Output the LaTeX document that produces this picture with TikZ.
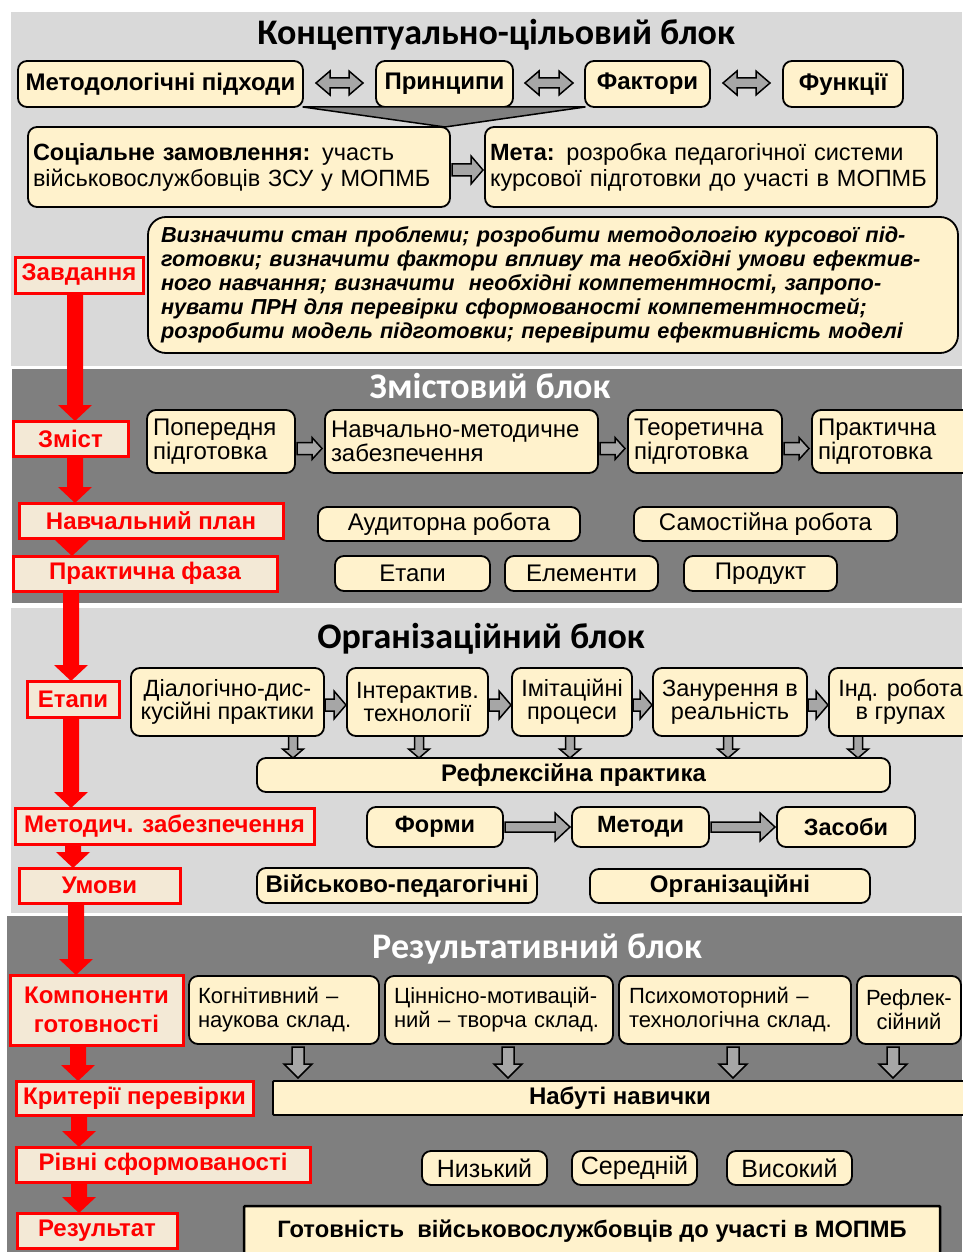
\documentclass[tikz,border=0pt]{standalone}
\usepackage{fontspec}
\setmainfont{Liberation Sans}
\newfontfamily\titlefont{Carlito}
\usetikzlibrary{calc}
\definecolor{beige}{HTML}{FFF2CC}
\definecolor{lgray}{HTML}{D9D9D9}
\definecolor{dgray}{HTML}{7F7F7F}
\definecolor{redbg}{HTML}{F3E9D6}
\definecolor{arrgray}{HTML}{A6A6A6}

% box from corner (x1,y1) to (x2,y2), centred text
\newcommand\Bx[7][]{%
 \pgfmathsetmacro\bw{#5-#3}\pgfmathsetmacro\bh{#6-#4}%
 \node[#1, anchor=north west, minimum width=\bw pt, minimum height=\bh pt] (#2) at (#3,#4) {#7};}
% box with left aligned text, pad = inner x sep
\newcommand\BxL[8][]{%
 \pgfmathsetmacro\bw{#5-#3}\pgfmathsetmacro\bh{#6-#4}\pgfmathsetmacro\tw{#5-#3-2*#7}%
 \node[#1, anchor=north west, minimum width=\bw pt, minimum height=\bh pt, text width=\tw pt, align=left, inner xsep=#7pt] (#2) at (#3,#4) {#8};}
% red vertical arrow
\newcommand\RArrowV[2]{%
 \fill[red] let \p1=(#1), \p2=(#2) in (\x1-8,\y1) -- (\x1-8,\y2+16) -- (\x1-17,\y2+16) -- (\x1,\y2) -- (\x1+17,\y2+16) -- (\x1+8,\y2+16) -- (\x1+8,\y1) -- cycle;}
% gray block arrows: from, to, shaft half, head half, head length
\newcommand\GArrowH[5]{%
 \filldraw[garrow] let \p1=(#1), \p2=(#2) in (\x1,\y1+#3) -- (\x2-#5,\y1+#3) -- (\x2-#5,\y1+#4) -- (\x2,\y1) -- (\x2-#5,\y1-#4) -- (\x2-#5,\y1-#3) -- (\x1,\y1-#3) -- cycle;}
\newcommand\GArrowV[5]{%
 \filldraw[garrow] let \p1=(#1), \p2=(#2) in (\x1-#3,\y1) -- (\x1-#3,\y2+#5) -- (\x1-#4,\y2+#5) -- (\x1,\y2) -- (\x1+#4,\y2+#5) -- (\x1+#3,\y2+#5) -- (\x1+#3,\y1) -- cycle;}
\newcommand\GArrowD[5]{%
 \filldraw[garrow] let \p1=(#1), \p2=(#2) in (\x1,\y1) -- (\x1+#5,\y1+#4) -- (\x1+#5,\y1+#3) -- (\x2-#5,\y1+#3) -- (\x2-#5,\y1+#4) -- (\x2,\y1) -- (\x2-#5,\y1-#4) -- (\x2-#5,\y1-#3) -- (\x1+#5,\y1-#3) -- (\x1+#5,\y1-#4) -- cycle;}

\begin{document}
\begin{tikzpicture}[x=1pt,y=-1pt,
  bx/.style={draw=black, line width=1.8pt, fill=beige, rounded corners=9pt, inner sep=0pt, outer sep=0pt, align=center, font=\fontsize{24}{20}\selectfont},
  bxb/.style={bx, font=\bfseries\fontsize{24}{22}\selectfont},
  sq/.style={bx, rounded corners=1pt},
  rbox/.style={draw=red, line width=3pt, fill=redbg, inner sep=0pt, outer sep=0pt, align=center, text=red, font=\bfseries\fontsize{24}{29}\selectfont},
  ttl/.style={font=\titlefont\bfseries\fontsize{36}{38}\selectfont, inner sep=0pt, anchor=base},
  garrow/.style={fill=arrgray, draw=black, line width=1.5pt, line join=miter}]
\useasboundingbox[fill=white] (0,0) rectangle (962,1252);

% block backgrounds
\fill[lgray] (11,12) rectangle (962,366);
\fill[dgray] (12,369) rectangle (962,603);
\fill[lgray] (11,608) rectangle (962,913);
\fill[dgray] (7,916) rectangle (962,1252);

% titles
\node[ttl] (t1) at (496,45) {Концептуально-цільовий блок};
\node[ttl, text=white] (t2) at (490,398) {Змістовий блок};
\node[ttl] (t3) at (481,648) {Організаційний блок};
\node[ttl, text=white] (t4) at (537,958) {Результативний блок};

% ---------- block 1
\Bx[bxb]{m1}{18}{61}{303}{107}{Методологічні підходи}
\Bx[bxb]{m2}{376}{61}{513}{107}{Принципи}
\Bx[bxb]{m3}{585}{61}{710}{107}{Фактори}
\Bx[bxb]{m4}{783}{61}{903}{107}{Функції}
\GArrowD{$(m1.east)+(13,-1)$}{$(m2.west)+(-13,-1)$}{5}{12}{14}
\GArrowD{$(m2.east)+(12,-1)$}{$(m3.west)+(-12,-1)$}{5}{12}{14}
\GArrowD{$(m3.east)+(13,-1)$}{$(m4.west)+(-13,-1)$}{5}{12}{14}

\filldraw[fill=dgray, draw=black, line width=1.5pt, line join=round] (m1.south east) -- (m3.south west) -- (445,127) -- cycle;

\BxL[bx, font=\fontsize{23.5}{26}\selectfont]{s1}{28}{127}{450}{207}{5}{\textbf{Соціальне замовлення:} участь\\військовослужбовців ЗСУ у МОПМБ}
\BxL[bx, font=\fontsize{23.5}{26}\selectfont]{s2}{485}{127}{937}{207}{5}{\textbf{Мета:} розробка педагогічної системи\\курсової підготовки до участі в МОПМБ}
\GArrowH{$(s1.east)+(2,3)$}{$(s2.west)+(-2,3)$}{6}{14}{12}

\BxL[bx, rounded corners=18pt, font=\bfseries\itshape\fontsize{21.7}{24}\selectfont]{tk}{148}{217}{958}{353}{13}{Визначити стан проблеми; розробити методологію курсової під-\\готовки; визначити фактори впливу та необхідні умови ефектив-\\ного навчання; визначити\ \ необхідні компетентності, запропо-\\нувати ПРН для перевірки сформованості компетентностей;\\розробити модель підготовки; перевірити ефективність моделі}

% ---------- block 2
\BxL[bx]{b1}{147}{410}{295}{473}{6}{Попередня\\підготовка}
\BxL[bx]{b2}{325}{410}{598}{473}{6}{Навчально-методичне\\забезпечення}
\BxL[bx]{b3}{628}{410}{782}{473}{6}{Теоретична\\підготовка}
\BxL[bx]{b4}{812}{410}{975}{473}{6}{Практична\\підготовка}
\GArrowH{$(b1.east)+(2,7)$}{$(b2.west)+(-3,7)$}{6}{11}{10}
\GArrowH{$(b2.east)+(2,7)$}{$(b3.west)+(-3,7)$}{6}{11}{10}
\GArrowH{$(b3.east)+(2,7)$}{$(b4.west)+(-3,7)$}{6}{11}{10}

\Bx[bx]{au}{318}{507}{580}{541}{Аудиторна робота}
\Bx[bx]{sr}{634}{507}{897}{541}{Самостійна робота}
\Bx[bx]{et}{335}{556}{490}{591}{Етапи}
\Bx[bx]{el}{505}{556}{658}{591}{Елементи}
\Bx[bx]{pr}{684}{556}{837}{591}{Продукт}

% ---------- block 3
\tikzset{dbx/.style={bx, font=\fontsize{23.5}{23}\selectfont}}
\Bx[dbx]{d1}{131}{668}{324}{736}{Діалогічно-дис-\\кусійні практики}
\Bx[dbx]{d2}{347}{668}{488}{736}{Інтерактив.\\технології}
\Bx[dbx]{d3}{512}{668}{632}{736}{Імітаційні\\процеси}
\Bx[dbx]{d4}{653}{668}{807}{736}{Занурення в\\реальність}
\Bx[dbx]{d5}{829}{668}{972}{736}{Інд. робота\\в групах}
\GArrowH{$(d1.east)+(1,3)$}{$(d2.west)+(-1,3)$}{6}{14}{12}
\GArrowH{$(d2.east)+(1,3)$}{$(d3.west)+(-1,3)$}{6}{14}{12}
\GArrowH{$(d3.east)+(1,3)$}{$(d4.west)+(-1,3)$}{6}{14}{12}
\GArrowH{$(d4.east)+(1,3)$}{$(d5.west)+(-1,3)$}{6}{14}{12}

\Bx[bxb]{rf}{257}{758}{890}{792}{Рефлексійна практика}
\coordinate (c1) at (293,0);
\coordinate (c2) at (419,0);
\coordinate (c3) at (570,0);
\coordinate (c4) at (728,0);
\coordinate (c5) at (858,0);
\GArrowV{d1.south -| c1}{rf.north -| c1}{4.5}{10.5}{9}
\GArrowV{d2.south -| c2}{rf.north -| c2}{4.5}{10.5}{9}
\GArrowV{d3.south -| c3}{rf.north -| c3}{4.5}{10.5}{9}
\GArrowV{d4.south -| c4}{rf.north -| c4}{4.5}{10.5}{9}
\GArrowV{d5.south -| c5}{rf.north -| c5}{4.5}{10.5}{9}

\Bx[bxb, font=\bfseries\fontsize{23.5}{22}\selectfont]{fo}{367}{807}{503}{847}{Форми}
\Bx[bxb, font=\bfseries\fontsize{23.5}{22}\selectfont]{me}{572}{807}{709}{847}{Методи}
\Bx[bxb, font=\bfseries\fontsize{23.5}{22}\selectfont]{zs}{777}{807}{915}{847}{Засоби}
\GArrowH{$(fo.east)+(2,0)$}{$(me.west)+(-2,0)$}{5}{14}{15}
\GArrowH{$(me.east)+(2,0)$}{$(zs.west)+(-2,0)$}{5}{14}{15}

\Bx[bxb]{vp}{257}{868}{537}{903}{Військово-педагогічні}
\Bx[bxb]{og}{590}{869}{870}{903}{Організаційні}

% ---------- block 4
\BxL[bx, font=\fontsize{22}{24}\selectfont]{k1}{189}{976}{379}{1044}{9}{Когнітивний –\\наукова склад.}
\BxL[bx, font=\fontsize{22}{24}\selectfont]{k2}{385}{976}{613}{1044}{9}{Ціннісно-мотивацій-\\ний – творча склад.}
\BxL[bx, font=\fontsize{22}{24}\selectfont]{k3}{619}{976}{851}{1044}{10}{Психомоторний –\\технологічна склад.}
\Bx[bx, font=\fontsize{22}{24}\selectfont]{k4}{857}{976}{961}{1044}{Рефлек-\\сійний}

\Bx[sq, font=\bfseries\fontsize{24}{22}\selectfont]{nav}{273}{1081}{967}{1115}{Набуті навички}
\coordinate (e1) at (298,0);
\coordinate (e2) at (508,0);
\coordinate (e3) at (733,0);
\coordinate (e4) at (893,0);
\GArrowV{$(k1.south -| e1)+(0,3)$}{$(nav.north -| e1)+(0,-3)$}{6}{14}{14}
\GArrowV{$(k2.south -| e2)+(0,3)$}{$(nav.north -| e2)+(0,-3)$}{6}{14}{14}
\GArrowV{$(k3.south -| e3)+(0,3)$}{$(nav.north -| e3)+(0,-3)$}{6}{14}{14}
\GArrowV{$(k4.south -| e4)+(0,3)$}{$(nav.north -| e4)+(0,-3)$}{6}{14}{14}

\Bx[bx, font=\fontsize{25}{22}\selectfont]{lo}{422}{1151}{547}{1185}{Низький}
\Bx[bx, font=\fontsize{25}{22}\selectfont]{mi}{572}{1151}{697}{1185}{Середній}
\Bx[bx, font=\fontsize{25}{22}\selectfont]{hi}{727}{1151}{852}{1185}{Високий}

\Bx[sq, line width=2.5pt, font=\bfseries\fontsize{23.7}{22}\selectfont]{gt}{244}{1206}{940}{1256}{Готовність\ \ військовослужбовців до участі в МОПМБ}

% ---------- red chain
\Bx[rbox]{r1}{15}{257}{143}{293}{Завдання}
\Bx[rbox]{r2}{13}{421}{128}{456}{Зміст}
\Bx[rbox]{r3}{19}{503}{283}{538}{Навчальний план}
\Bx[rbox]{r4}{13}{556}{277}{591}{Практична фаза}
\Bx[rbox]{r5}{27}{681}{119}{717}{Етапи}
\Bx[rbox]{r6}{15}{808}{314}{844}{Методич. забезпечення}
\Bx[rbox]{r7}{19}{868}{180}{903}{Умови}
\Bx[rbox]{r8}{10}{975}{183}{1045}{Компоненти\\готовності}
\Bx[rbox]{r9}{16}{1081}{253}{1115}{Критерії перевірки}
\Bx[rbox]{r10}{16}{1147}{310}{1182}{Рівні сформованості}
\Bx[rbox]{r11}{17}{1213}{177}{1248}{Результат}

\coordinate (a1) at (75,0);
\coordinate (a2) at (75,0);
\coordinate (a3) at (72,0);
\coordinate (a4) at (71,0);
\coordinate (a5) at (71,0);
\coordinate (a6) at (73,0);
\coordinate (a7) at (76,0);
\coordinate (a8) at (78,0);
\coordinate (a9) at (79,0);
\coordinate (a10) at (79,0);
\RArrowV{r1.south -| a1}{r2.north -| a1}
\RArrowV{r2.south -| a2}{r3.north -| a2}
\RArrowV{r3.south -| a3}{r4.north -| a3}
\RArrowV{r4.south -| a4}{r5.north -| a4}
\RArrowV{r5.south -| a5}{r6.north -| a5}
\RArrowV{r6.south -| a6}{r7.north -| a6}
\RArrowV{r7.south -| a7}{r8.north -| a7}
\RArrowV{r8.south -| a8}{r9.north -| a8}
\RArrowV{r9.south -| a9}{r10.north -| a9}
\RArrowV{r10.south -| a10}{r11.north -| a10}
\end{tikzpicture}
\end{document}
